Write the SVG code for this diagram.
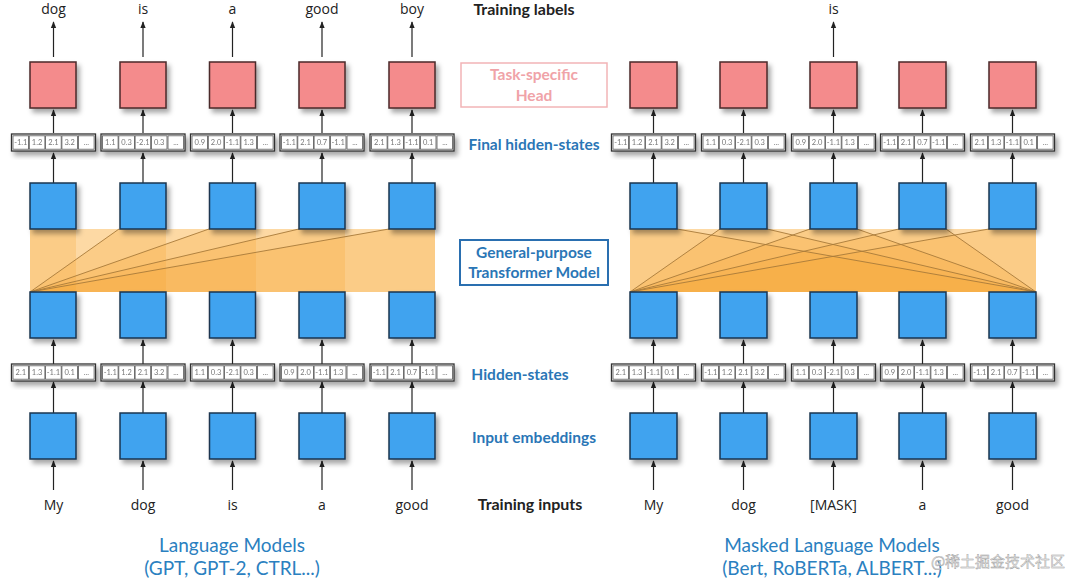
<svg xmlns="http://www.w3.org/2000/svg" xmlns:xlink="http://www.w3.org/1999/xlink" width="1080" height="578" viewBox="0 0 1080 578">
<defs>
<style>
.blue{fill:#3fa3ef;stroke:#1c3550;stroke-width:1.5}
.red{fill:#f48b8c;stroke:#4a2a2a;stroke-width:1.5}
.vo{fill:#fff;stroke:#333;stroke-width:1.3}
.vc{fill:#fff;stroke:#555;stroke-width:0.8}
.ct{font-family:Lato,"Liberation Sans",sans-serif;font-size:7.5px;fill:#777;text-anchor:middle}
.word{font-family:"Open Sans","Liberation Sans",sans-serif;font-size:14px;fill:#222;text-anchor:middle}
.lab{font-family:Lato,"Liberation Sans",sans-serif;font-weight:bold;font-size:15.5px;fill:#2a76b6;text-anchor:middle}
.blk{font-family:Lato,"Liberation Sans",sans-serif;font-weight:bold;font-size:16px;fill:#222;text-anchor:middle}
.pink{font-family:Lato,"Liberation Sans",sans-serif;font-weight:bold;font-size:15.5px;fill:#f0a3a8;text-anchor:middle}
.cap{font-family:Lato,"Liberation Sans",sans-serif;font-size:19px;fill:#2a80c0;text-anchor:middle}
.arr path{stroke:#222;stroke-width:1.2;fill:none;marker-end:url(#ah)}
.band{fill:#fdd9a4}
.fan{fill:#f5a530;fill-opacity:0.24;stroke:none}
.fl{stroke:#a87a3a;stroke-width:0.9;fill:none}
</style>
<marker id="ah" viewBox="0 0 10 10" refX="9" refY="5" markerWidth="5.5" markerHeight="5.5" orient="auto"><path d="M0,1 L10,5 L0,9 z" fill="#222"/></marker>
<filter id="sh" x="-20%" y="-20%" width="160%" height="170%"><feDropShadow dx="3" dy="4" stdDeviation="2.5" flood-color="#000" flood-opacity="0.35"/></filter>
<g id="cells">
<rect class="vo" x="-42" y="0" width="84" height="17"/>
<rect class="vc" x="-40.5" y="1.8" width="15.6" height="13.4"/>
<rect class="vc" x="-24.2" y="1.8" width="15.6" height="13.4"/>
<rect class="vc" x="-7.9" y="1.8" width="15.6" height="13.4"/>
<rect class="vc" x="8.4" y="1.8" width="15.6" height="13.4"/>
<rect class="vc" x="25" y="1.8" width="15.6" height="13.4"/>
<text class="ct" x="32.8" y="11">...</text>
</g>
<g id="vA"><use href="#cells"/><text class="ct" x="-32.7" y="11.3">-1.1</text><text class="ct" x="-16.4" y="11.3">1.2</text><text class="ct" x="-0.1" y="11.3">2.1</text><text class="ct" x="16.2" y="11.3">3.2</text></g>
<g id="vB"><use href="#cells"/><text class="ct" x="-32.7" y="11.3">1.1</text><text class="ct" x="-16.4" y="11.3">0.3</text><text class="ct" x="-0.1" y="11.3">-2.1</text><text class="ct" x="16.2" y="11.3">0.3</text></g>
<g id="vC"><use href="#cells"/><text class="ct" x="-32.7" y="11.3">0.9</text><text class="ct" x="-16.4" y="11.3">2.0</text><text class="ct" x="-0.1" y="11.3">-1.1</text><text class="ct" x="16.2" y="11.3">1.3</text></g>
<g id="vD"><use href="#cells"/><text class="ct" x="-32.7" y="11.3">-1.1</text><text class="ct" x="-16.4" y="11.3">2.1</text><text class="ct" x="-0.1" y="11.3">0.7</text><text class="ct" x="16.2" y="11.3">-1.1</text></g>
<g id="vE"><use href="#cells"/><text class="ct" x="-32.7" y="11.3">2.1</text><text class="ct" x="-16.4" y="11.3">1.3</text><text class="ct" x="-0.1" y="11.3">-1.1</text><text class="ct" x="16.2" y="11.3">0.1</text></g>
</defs>
<rect width="1080" height="578" fill="#fff"/>

<!-- attention bands -->
<g id="lm-transformer">
<rect class="band" x="30" y="229" width="405" height="63"/>
<polygon class="fan" points="30,292 30,229 76,229 76,292"/>
<polygon class="fan" points="30,292 119,229 166,229 166,292"/>
<polygon class="fan" points="30,292 209,229 256,229 256,292"/>
<polygon class="fan" points="30,292 299,229 345,229 345,292"/>
<polygon class="fan" points="30,292 389,229 435,229 435,292"/>
<path class="fl" d="M30,292 L119,229 M30,292 L209,229 M30,292 L299,229 M30,292 L389,229"/>
</g>
<g id="mlm-transformer">
<rect class="band" x="630" y="229" width="406" height="63"/>
<polygon class="fan" points="630,292 630,229 677,229 1036,292"/>
<polygon class="fan" points="630,292 720,229 767,229 1036,292"/>
<polygon class="fan" points="630,292 810,229 857,229 1036,292"/>
<polygon class="fan" points="630,292 899,229 946,229 1036,292"/>
<polygon class="fan" points="630,292 989,229 1036,229 1036,292"/>
<path class="fl" d="M630,292 L720,229 M630,292 L810,229 M630,292 L899,229 M630,292 L989,229 M1036,292 L677,229 M1036,292 L767,229 M1036,292 L857,229 M1036,292 L946,229"/>
</g>

<!-- connectors -->
<g id="connectors" class="arr">
<path d="M53.5,57 V22"/><path d="M143,57 V22"/><path d="M232.5,57 V22"/><path d="M322,57 V22"/><path d="M412,57 V22"/><path d="M833.5,57 V22"/>
<path d="M53.5,133 V110"/><path d="M143,133 V110"/><path d="M232.5,133 V110"/><path d="M322,133 V110"/><path d="M412,133 V110"/>
<path d="M653.5,133 V110"/><path d="M743.5,133 V110"/><path d="M833.5,133 V110"/><path d="M922.5,133 V110"/><path d="M1012.5,133 V110"/>
<path d="M53.5,183 V153"/><path d="M143,183 V153"/><path d="M232.5,183 V153"/><path d="M322,183 V153"/><path d="M412,183 V153"/>
<path d="M653.5,183 V153"/><path d="M743.5,183 V153"/><path d="M833.5,183 V153"/><path d="M922.5,183 V153"/><path d="M1012.5,183 V153"/>
<path d="M53.5,364 V340"/><path d="M143,364 V340"/><path d="M232.5,364 V340"/><path d="M322,364 V340"/><path d="M412,364 V340"/>
<path d="M653.5,364 V340"/><path d="M743.5,364 V340"/><path d="M833.5,364 V340"/><path d="M922.5,364 V340"/><path d="M1012.5,364 V340"/>
<path d="M53.5,413 V382"/><path d="M143,413 V382"/><path d="M232.5,413 V382"/><path d="M322,413 V382"/><path d="M412,413 V382"/>
<path d="M653.5,413 V382"/><path d="M743.5,413 V382"/><path d="M833.5,413 V382"/><path d="M922.5,413 V382"/><path d="M1012.5,413 V382"/>
<path d="M53.5,490 V461"/><path d="M143,490 V461"/><path d="M232.5,490 V461"/><path d="M322,490 V461"/><path d="M412,490 V461"/>
<path d="M653.5,490 V461"/><path d="M743.5,490 V461"/><path d="M833.5,490 V461"/><path d="M922.5,490 V461"/><path d="M1012.5,490 V461"/>
</g>

<!-- Language model nodes -->
<g id="lm-labels">
<text class="word" x="53.5" y="14">dog</text>
<text class="word" x="143" y="14">is</text>
<text class="word" x="232.5" y="14">a</text>
<text class="word" x="322" y="14">good</text>
<text class="word" x="412" y="14">boy</text>
</g>
<g id="lm-heads" filter="url(#sh)">
<rect class="red" x="30" y="62" width="46" height="46"/>
<rect class="red" x="120" y="62" width="46" height="46"/>
<rect class="red" x="209.5" y="62" width="46" height="46"/>
<rect class="red" x="299" y="62" width="46" height="46"/>
<rect class="red" x="389" y="62" width="46" height="46"/>
</g>
<g id="lm-final-hidden" filter="url(#sh)">
<use href="#vA" x="53.5" y="134"/>
<use href="#vB" x="143" y="134"/>
<use href="#vC" x="232.5" y="134"/>
<use href="#vD" x="322" y="134"/>
<use href="#vE" x="412" y="134"/>
</g>
<g id="lm-top-blocks" filter="url(#sh)">
<rect class="blue" x="30" y="183" width="46" height="46"/>
<rect class="blue" x="120" y="183" width="46" height="46"/>
<rect class="blue" x="209.5" y="183" width="46" height="46"/>
<rect class="blue" x="299" y="183" width="46" height="46"/>
<rect class="blue" x="389" y="183" width="46" height="46"/>
</g>
<g id="lm-bottom-blocks" filter="url(#sh)">
<rect class="blue" x="30" y="292" width="46" height="46"/>
<rect class="blue" x="120" y="292" width="46" height="46"/>
<rect class="blue" x="209.5" y="292" width="46" height="46"/>
<rect class="blue" x="299" y="292" width="46" height="46"/>
<rect class="blue" x="389" y="292" width="46" height="46"/>
</g>
<g id="lm-hidden" filter="url(#sh)">
<use href="#vE" x="53.5" y="364"/>
<use href="#vA" x="143" y="364"/>
<use href="#vB" x="232.5" y="364"/>
<use href="#vC" x="322" y="364"/>
<use href="#vD" x="412" y="364"/>
</g>
<g id="lm-embeddings" filter="url(#sh)">
<rect class="blue" x="30" y="413" width="46" height="46"/>
<rect class="blue" x="120" y="413" width="46" height="46"/>
<rect class="blue" x="209.5" y="413" width="46" height="46"/>
<rect class="blue" x="299" y="413" width="46" height="46"/>
<rect class="blue" x="389" y="413" width="46" height="46"/>
</g>
<g id="lm-inputs">
<text class="word" x="53.5" y="510">My</text>
<text class="word" x="143" y="510">dog</text>
<text class="word" x="232.5" y="510">is</text>
<text class="word" x="322" y="510">a</text>
<text class="word" x="412" y="510">good</text>
</g>

<!-- Masked LM nodes -->
<g id="mlm-labels">
<text class="word" x="833.5" y="14">is</text>
</g>
<g id="mlm-heads" filter="url(#sh)">
<rect class="red" x="630" y="62" width="47" height="46"/>
<rect class="red" x="720" y="62" width="47" height="46"/>
<rect class="red" x="810" y="62" width="47" height="46"/>
<rect class="red" x="899" y="62" width="47" height="46"/>
<rect class="red" x="989" y="62" width="47" height="46"/>
</g>
<g id="mlm-final-hidden" filter="url(#sh)">
<use href="#vA" x="653.5" y="134"/>
<use href="#vB" x="743.5" y="134"/>
<use href="#vC" x="833.5" y="134"/>
<use href="#vD" x="922.5" y="134"/>
<use href="#vE" x="1012.5" y="134"/>
</g>
<g id="mlm-top-blocks" filter="url(#sh)">
<rect class="blue" x="630" y="183" width="47" height="46"/>
<rect class="blue" x="720" y="183" width="47" height="46"/>
<rect class="blue" x="810" y="183" width="47" height="46"/>
<rect class="blue" x="899" y="183" width="47" height="46"/>
<rect class="blue" x="989" y="183" width="47" height="46"/>
</g>
<g id="mlm-bottom-blocks" filter="url(#sh)">
<rect class="blue" x="630" y="292" width="47" height="46"/>
<rect class="blue" x="720" y="292" width="47" height="46"/>
<rect class="blue" x="810" y="292" width="47" height="46"/>
<rect class="blue" x="899" y="292" width="47" height="46"/>
<rect class="blue" x="989" y="292" width="47" height="46"/>
</g>
<g id="mlm-hidden" filter="url(#sh)">
<use href="#vE" x="653.5" y="364"/>
<use href="#vA" x="743.5" y="364"/>
<use href="#vB" x="833.5" y="364"/>
<use href="#vC" x="922.5" y="364"/>
<use href="#vD" x="1012.5" y="364"/>
</g>
<g id="mlm-embeddings" filter="url(#sh)">
<rect class="blue" x="630" y="413" width="47" height="46"/>
<rect class="blue" x="720" y="413" width="47" height="46"/>
<rect class="blue" x="810" y="413" width="47" height="46"/>
<rect class="blue" x="899" y="413" width="47" height="46"/>
<rect class="blue" x="989" y="413" width="47" height="46"/>
</g>
<g id="mlm-inputs">
<text class="word" x="653.5" y="510">My</text>
<text class="word" x="743.5" y="510">dog</text>
<text class="word" x="833.5" y="510">[MASK]</text>
<text class="word" x="922.5" y="510">a</text>
<text class="word" x="1012.5" y="510">good</text>
</g>

<!-- middle legend -->
<g id="legend">
<text class="blk" x="524" y="15">Training labels</text>
<rect x="461" y="63" width="146" height="44" fill="#fff" stroke="#f2b4b6" stroke-width="1.5"/>
<text class="pink" x="534" y="80">Task-specific</text>
<text class="pink" x="534" y="101">Head</text>
<text class="lab" x="534" y="150">Final hidden-states</text>
<rect x="460" y="240" width="148" height="45" fill="#fff" stroke="#2a6fb0" stroke-width="2"/>
<text class="lab" x="534" y="258">General-purpose</text>
<text class="lab" x="534" y="278">Transformer Model</text>
<text class="lab" x="520" y="380">Hidden-states</text>
<text class="lab" x="534" y="443">Input embeddings</text>
<text class="blk" x="530" y="510">Training inputs</text>
</g>

<g id="captions">
<text class="cap" x="232" y="552">Language Models</text>
<text class="cap" x="232" y="575">(GPT, GPT-2, CTRL...)</text>
<text class="cap" x="832" y="552">Masked Language Models</text>
<text class="cap" x="832" y="575">(Bert, RoBERTa, ALBERT...)</text>
<text x="998" y="567" font-family="'Noto Sans CJK SC',sans-serif" font-size="15" fill="#e8e8e8" stroke="#9a9a9a" stroke-width="0.4" text-anchor="middle">@稀土掘金技术社区</text>
</g>
</svg>
